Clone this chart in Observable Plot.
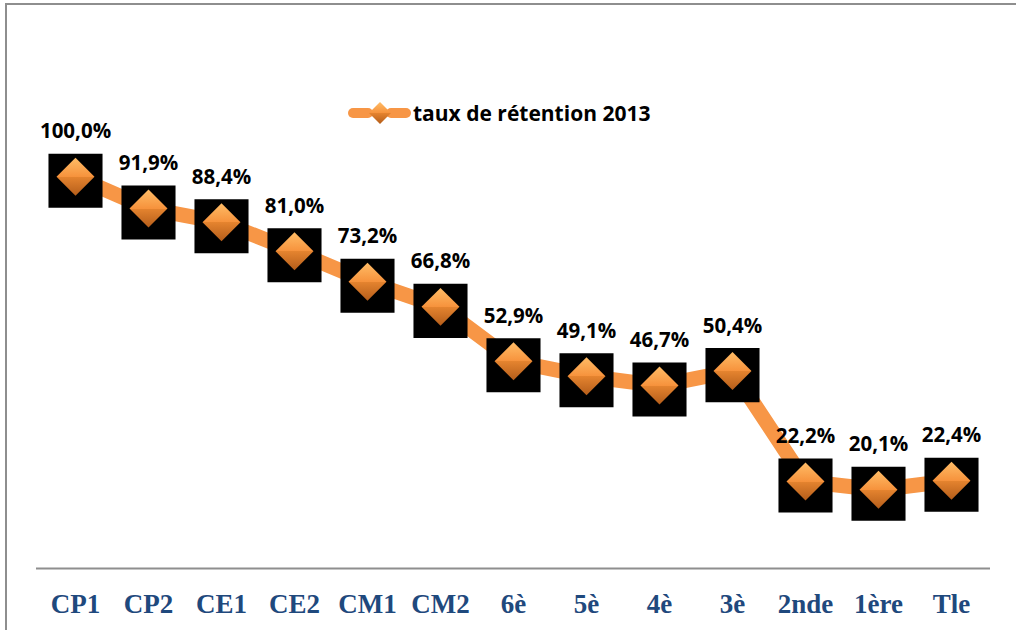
<!DOCTYPE html>
<html>
<head>
<meta charset="utf-8">
<script src="https://cdn.jsdelivr.net/npm/d3@7"></script>
<script src="https://cdn.jsdelivr.net/npm/@observablehq/plot@0.6"></script>
<style>
  html, body { margin: 0; padding: 0; background: #fff; }
  #wrap { position: relative; width: 1016px; height: 630px; overflow: hidden; }
  #frame { position: absolute; left: 5px; top: 3px; right: -10px; bottom: -10px;
           border-left: 2px solid #8e8e8e; border-top: 2px solid #8e8e8e; pointer-events: none; }
  #legend { position: absolute; left: 347px; top: 99px; height: 28px; display: flex; align-items: center;
            font-family: "Open Sans", sans-serif; font-weight: bold; font-size: 21px; color: #000; }
  #legend svg { margin-right: 1px; }
  g[aria-label="x-axis tick label"] text { font-weight: bold; }
</style>
</head>
<body>
<div id="wrap">
  <div id="chart"></div>
  <div id="legend">
    <svg width="65" height="28" viewBox="0 0 65 28">
      <line x1="6" y1="14" x2="21" y2="14" stroke="#F79646" stroke-width="10" stroke-linecap="round"/>
      <line x1="44" y1="14" x2="59" y2="14" stroke="#F79646" stroke-width="10" stroke-linecap="round"/>
      <path d="M33,3 L44,14 L33,25 L22,14 Z" fill="url(#dg)"/>
    </svg>
    <span>taux de rétention 2013</span>
  </div>
  <div id="frame"></div>
</div>
<script>
const levels = ["CP1", "CP2", "CE1", "CE2", "CM1", "CM2", "6è", "5è", "4è", "3è", "2nde", "1ère", "Tle"];
const rates = [100.0, 91.9, 88.4, 81.0, 73.2, 66.8, 52.9, 49.1, 46.7, 50.4, 22.2, 20.1, 22.4];

const data = levels.map((level, i) => ({ level, rate: rates[i] }));
const fmt = v => v.toFixed(1).replace(".", ",") + "%";

const chart = Plot.plot({
  width: 1016,
  height: 630,
  marginLeft: 36,
  marginRight: 26,
  marginTop: 98,
  marginBottom: 62,
  x: { type: "point", domain: levels, padding: 0.5, label: null },
  y: { domain: [0, 120], axis: null },
  marks: [
    Plot.ruleY([0], { stroke: "#8e8e8e", strokeWidth: 2 }),
    Plot.axisX({
      tickSize: 0,
      tickPadding: 25,
      fontSize: 27,
      fontFamily: "Liberation Serif, serif",
      fontWeight: "bold",
      fill: "#1F497D",
      label: null
    }),
    Plot.line(data, { x: "level", y: "rate", stroke: "#F79646", strokeWidth: 15, strokeLinecap: "butt" }),
    Plot.dot(data, { x: "level", y: "rate", symbol: "square", r: 30.5, fill: "#000", dy: 4 }),
    Plot.dot(data, { x: "level", y: "rate", symbol: "diamond2", r: 17.1, fill: "url(#dg)" }),
    Plot.text(data, {
      x: "level", y: "rate", text: d => fmt(d.rate), dy: -45,
      fontSize: 20.5, fontWeight: "bold", fontFamily: "Open Sans, sans-serif", fill: "#000"
    })
  ]
});

d3.select(chart).insert("defs", ":first-child").html(`
  <linearGradient id="dg" x1="0" y1="0" x2="0" y2="1">
    <stop offset="0" stop-color="#FFBC66"/>
    <stop offset="0.5" stop-color="#F6923C"/>
    <stop offset="0.5" stop-color="#E5842F"/>
    <stop offset="1" stop-color="#B45D1A"/>
  </linearGradient>`);

document.getElementById("chart").appendChild(chart);
</script>
</body>
</html>
